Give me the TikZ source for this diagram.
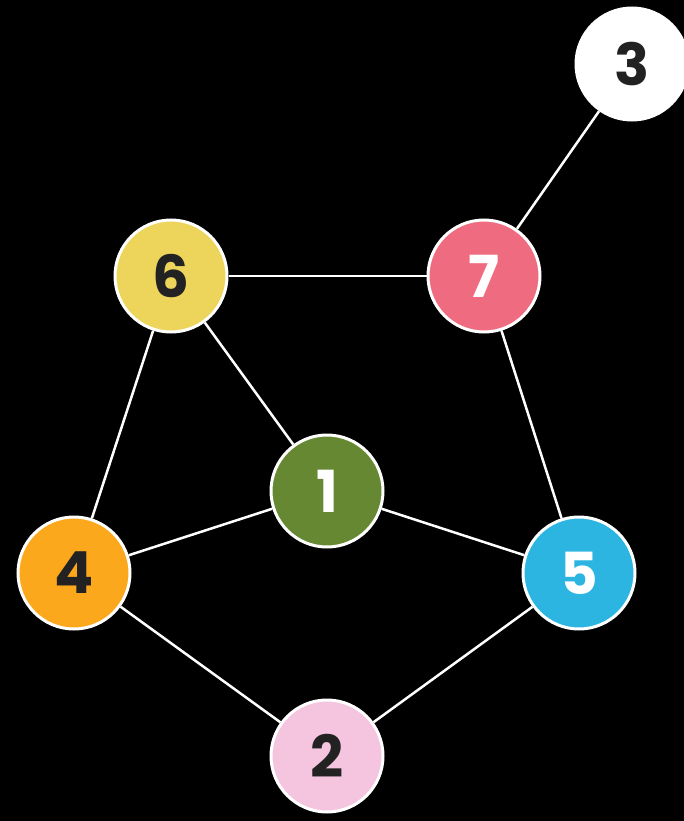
\documentclass[tikz,border=0pt]{standalone}
\usepackage{fontspec}
\setmainfont{Poppins}
\definecolor{cyel}{HTML}{EDD55B}
\definecolor{cred}{HTML}{EF6B80}
\definecolor{cgrn}{HTML}{668833}
\definecolor{corg}{HTML}{FBA81D}
\definecolor{cblu}{HTML}{2BB5E0}
\definecolor{cpnk}{HTML}{F5C5DF}
\definecolor{cdark}{HTML}{222222}
\begin{document}
\begin{tikzpicture}[x=1pt,y=-1pt,
  vtx/.style={circle, draw=white, line width=3pt, minimum size=112pt, inner sep=0pt,
    font=\fontsize{58}{58}\selectfont\bfseries},
  edge/.style={draw=white, line width=2.5pt}]
\fill[black] (0,0) rectangle (684,821);
\useasboundingbox (0,0) rectangle (684,821);
\node[vtx, fill=white, text=cdark] (n3) at (632,64) {3};
\node[vtx, fill=cyel, text=cdark] (n6) at (171,276) {6};
\node[vtx, fill=cred, text=white] (n7) at (484,276) {7};
\node[vtx, fill=cgrn, text=white] (n1) at (327,491) {1};
\node[vtx, fill=corg, text=cdark] (n4) at (74,573) {4};
\node[vtx, fill=cblu, text=white] (n5) at (579,573) {5};
\node[vtx, fill=cpnk, text=cdark] (n2) at (327,756) {2};
\draw[edge] (n3) -- (n7);
\draw[edge] (n6) -- (n7);
\draw[edge] (n6) -- (n1);
\draw[edge] (n6) -- (n4);
\draw[edge] (n7) -- (n5);
\draw[edge] (n1) -- (n4);
\draw[edge] (n1) -- (n5);
\draw[edge] (n4) -- (n2);
\draw[edge] (n5) -- (n2);
\end{tikzpicture}
\end{document}
